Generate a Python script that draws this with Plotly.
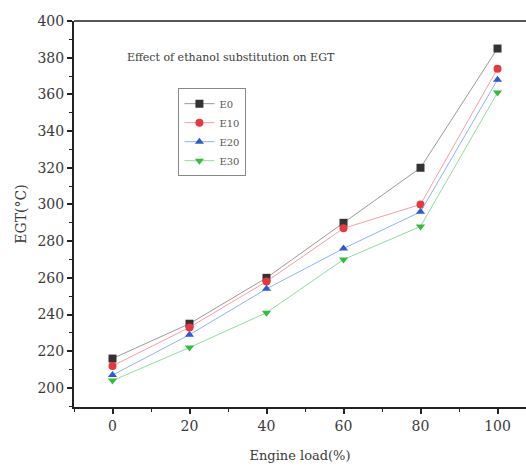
import plotly.graph_objects as go

# Engine load (%) and exhaust gas temperature (°C) per blend
load = [0, 20, 40, 60, 80, 100]
egt_e0 = [216, 235, 260, 290, 320, 385]
egt_e10 = [212, 233, 258, 287, 300, 374]
egt_e20 = [207, 229, 254, 276, 296, 368]
egt_e30 = [204, 222, 241, 270, 288, 361]

series = [
    ("E0", egt_e0, "#333333", "#9a9a9a", "square"),
    ("E10", egt_e10, "#e8383d", "#f2a0a6", "circle"),
    ("E20", egt_e20, "#2a5bd7", "#8fb4f0", "triangle-up"),
    ("E30", egt_e30, "#2fbf3a", "#93dca0", "triangle-down"),
]

FONT = "DejaVu Serif, serif"
TXT = "#3a3a3a"

fig = go.Figure()
for name, vals, mcol, lcol, sym in series:
    fig.add_trace(go.Scatter(
        x=load, y=vals, name=name, mode="lines+markers",
        line=dict(color=lcol, width=1),
        marker=dict(symbol=sym, size=8, color=mcol),
    ))

axis_common = dict(
    showgrid=False, zeroline=False, showline=True, linecolor="#222222",
    linewidth=2, ticks="outside", ticklen=5, tickwidth=1.5, tickcolor="#222222",
    tickfont=dict(family=FONT, size=14, color=TXT),
    minor=dict(ticks="outside", ticklen=3, tickwidth=1, tickcolor="#222222"),
)

fig.update_layout(
    width=526, height=467,
    margin=dict(l=74, r=0, t=21, b=60),
    paper_bgcolor="white", plot_bgcolor="white",
    font=dict(family=FONT, color=TXT),
    showlegend=True,
    legend=dict(
        x=0.231, y=0.826, xanchor="left", yanchor="top",
        bordercolor="#888888", borderwidth=1, bgcolor="white",
        font=dict(family=FONT, size=10, color="#555555"),
        tracegroupgap=0, itemwidth=30,
    ),
    xaxis=dict(
        range=[-10, 107.4], tickvals=[0, 20, 40, 60, 80, 100],
        title=dict(text="Engine load(%)", font=dict(family=FONT, size=13, color=TXT), standoff=18),
        **axis_common,
    ),
    yaxis=dict(
        range=[189.6, 400], tickvals=list(range(200, 401, 20)),
        title=dict(text="EGT(°C)", font=dict(family=FONT, size=14, color=TXT), standoff=8),
        **axis_common,
    ),
    annotations=[dict(
        x=0.113, y=0.905, xref="paper", yref="paper", xanchor="left", yanchor="middle",
        text="Effect of ethanol substitution on EGT", showarrow=False,
        font=dict(family=FONT, size=11, color=TXT),
    )],
    shapes=[dict(
        type="line", xref="paper", yref="paper", x0=0, x1=1, y0=1, y1=1,
        line=dict(color="#555555", width=2),
    )],
)
fig.update_xaxes(minor=dict(dtick=10, tick0=0))
fig.update_yaxes(minor=dict(dtick=10, tick0=0))

fig.write_html("out.html")
